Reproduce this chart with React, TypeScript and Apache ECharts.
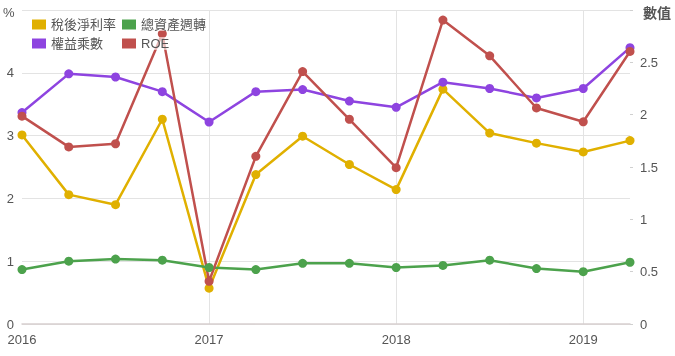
import React, { useEffect, useRef } from "react";
import * as echarts from "echarts";

const quarters = [
  "2016Q1", "2016Q2", "2016Q3", "2016Q4",
  "2017Q1", "2017Q2", "2017Q3", "2017Q4",
  "2018Q1", "2018Q2", "2018Q3", "2018Q4",
  "2019Q1", "2019Q2",
];
const netMargin = [3.01, 2.06, 1.9, 3.26, 0.57, 2.38, 2.99, 2.54, 2.14, 3.74, 3.04, 2.88, 2.74, 2.92];
const assetTurnover = [0.52, 0.6, 0.62, 0.61, 0.54, 0.52, 0.58, 0.58, 0.54, 0.56, 0.61, 0.53, 0.5, 0.59];
const equityMultiplier = [2.02, 2.39, 2.36, 2.22, 1.93, 2.22, 2.24, 2.13, 2.07, 2.31, 2.25, 2.16, 2.25, 2.64];
const roe = [3.31, 2.82, 2.87, 4.62, 0.68, 2.67, 4.02, 3.26, 2.49, 4.84, 4.27, 3.44, 3.22, 4.34];

const leftTicks = { min: 0, max: 5, interval: 1 };
const rightTicks = { min: 0, max: 3, interval: 0.5 };

const FONT = 'Arial, "Liberation Sans", "Noto Sans CJK TC", sans-serif';

export default function App() {
  const ref = useRef<HTMLDivElement>(null);
  useEffect(() => {
    if (!ref.current) return;
    const chart = echarts.init(ref.current, undefined, { renderer: "svg" });
    const lineSeries = (name: string, data: number[], color: string, yAxisIndex: number) => ({
      name,
      type: "line",
      data,
      yAxisIndex,
      symbol: "circle",
      symbolSize: 9,
      color,
      lineStyle: { width: 2.5, color },
      itemStyle: { color },
    });
    const legendBase = {
      orient: "horizontal",
      itemWidth: 14,
      itemHeight: 10,
      padding: 0,
      icon: "rect",
      backgroundColor: "rgba(255,255,255,0.6)",
      textStyle: { fontSize: 13, color: "#555", fontFamily: FONT },
    };
    chart.setOption({
      animation: false,
      textStyle: { fontFamily: FONT },
      grid: { left: 22, right: 45, top: 10, bottom: 32, containLabel: false },
      legend: [
        { ...legendBase, data: ["稅後淨利率"], left: 32, top: 18 },
        { ...legendBase, data: ["總資產週轉"], left: 122, top: 18 },
        { ...legendBase, data: ["權益乘數"], left: 32, top: 37 },
        { ...legendBase, data: ["ROE"], left: 122, top: 37 },
      ],
      xAxis: {
        type: "category",
        data: quarters,
        boundaryGap: false,
        axisLine: { show: true, lineStyle: { color: "#d8d0d0", width: 1.5 } },
        axisTick: { show: false },
        axisLabel: {
          interval: 0,
          color: "#555",
          fontSize: 13,
          margin: 9,
          formatter: (v: string) => (v.endsWith("Q1") ? v.slice(0, 4) : ""),
        },
        splitLine: {
          show: true,
          interval: (i: number) => i % 4 === 0 && i > 0,
          lineStyle: { color: "#e3e3e3" },
        },
      },
      yAxis: [
        {
          type: "value",
          ...leftTicks,
          axisLine: { show: false },
          axisTick: { show: false },
          axisLabel: {
            color: "#555",
            fontSize: 13,
            margin: 8,
            formatter: (v: number) => (v === leftTicks.max ? "" : String(v)),
          },
          splitLine: { show: true, lineStyle: { color: "#e3e3e3" } },
        },
        {
          type: "value",
          ...rightTicks,
          position: "right",
          axisLine: { show: false },
          axisTick: { show: true, length: 3, lineStyle: { color: "#d0d0d0" } },
          axisLabel: {
            color: "#555",
            fontSize: 13,
            margin: 10,
            formatter: (v: number) => (v === rightTicks.max ? "" : String(v)),
          },
          splitLine: { show: false },
        },
      ],
      graphic: [
        { type: "text", left: 3, top: 6, style: { text: "%", fontSize: 13, fill: "#555", fontFamily: FONT } },
        { type: "text", left: 643, top: 6, style: { text: "數值", fontSize: 14, fontWeight: "bold", fill: "#555", fontFamily: FONT } },
      ],
      series: [
        lineSeries("稅後淨利率", netMargin, "#E0B000", 0),
        lineSeries("總資產週轉", assetTurnover, "#4CA24C", 1),
        lineSeries("權益乘數", equityMultiplier, "#8E44E0", 1),
        lineSeries("ROE", roe, "#C0504D", 0),
      ],
    });
    return () => chart.dispose();
  }, []);
  return <div ref={ref} style={{ position: "fixed", left: 0, top: 0, width: 675, height: 356 }} />;
}
